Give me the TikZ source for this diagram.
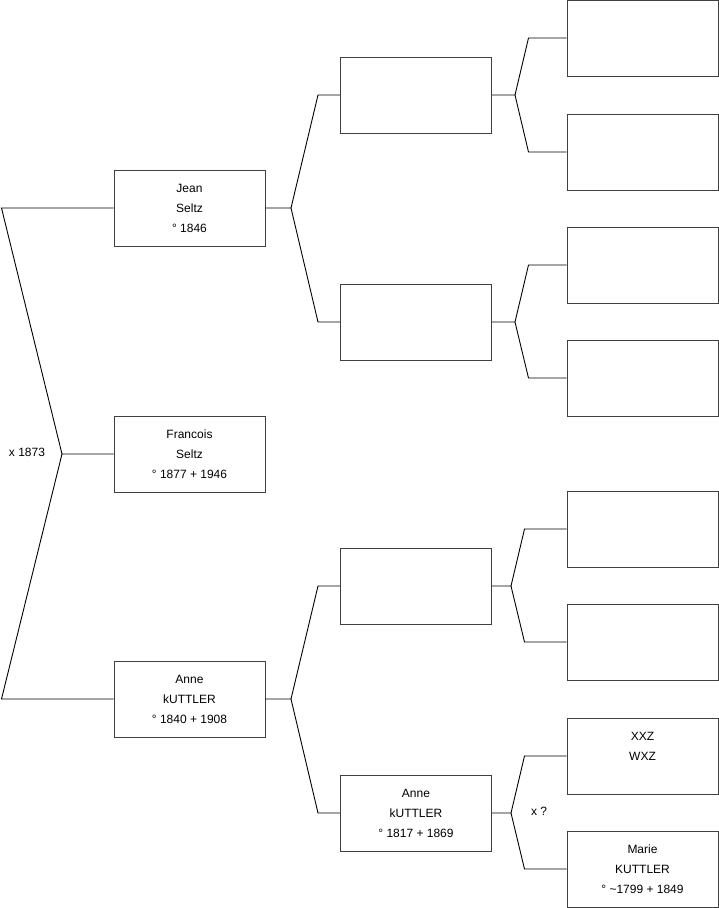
\documentclass[tikz,border=0pt]{standalone}
\usepackage{fontspec}
\setmainfont{Liberation Sans}
\begin{document}
\begin{tikzpicture}[x=1pt,y=-1pt,
  person/.style={draw=black!75, line width=1pt, minimum width=151pt, minimum height=76pt,
    inner sep=0pt, align=center, font=\fontsize{12pt}{20pt}\selectfont},
  link/.style={draw=black, line width=0.9pt},
  lbl/.style={font=\fontsize{12pt}{14pt}\selectfont, inner sep=0pt}]
\useasboundingbox (0,0) rectangle (719,908);
% level 1
\node[person] (jean) at (189.5,208) {Jean\\Seltz\\° 1846};
\node[person] (fran) at (189.5,454) {Francois\\Seltz\\° 1877 + 1946};
\node[person] (anne) at (189.5,699) {Anne\\kUTTLER\\° 1840 + 1908};
% level 2
\node[person] (ba) at (416,95) {};
\node[person] (bb) at (416,322) {};
\node[person] (bc) at (416,586) {};
\node[person] (anne2) at (416,813) {Anne\\kUTTLER\\° 1817 + 1869};
% level 3
\node[person] (c1) at (642.5,38) {};
\node[person] (c2) at (642.5,152) {};
\node[person] (c3) at (642.5,265) {};
\node[person] (c4) at (642.5,378) {};
\node[person] (c5) at (642.5,529) {};
\node[person] (c6) at (642.5,642) {};
\node[person] (c7) at (642.5,756) {XXZ\\WXZ\\\mbox{}};
\node[person] (c8) at (642.5,869) {Marie\\KUTTLER\\° \textasciitilde1799 + 1849};
% vertices
\coordinate (v0) at (62,454);
\coordinate (vj) at (291,208);
\coordinate (va) at (291,699);
\coordinate (vba) at (515,95);
\coordinate (vbb) at (515,322);
\coordinate (vbc) at (511,586);
\coordinate (van) at (511,813);
% connectors
\draw[link] (jean.west) -- ++(-112,0) -- (v0) -- (fran.west);
\draw[link] (anne.west) -- ++(-112,0) -- (v0);
\draw[link] (ba.west) -- ++(-22,0) -- (vj) -- (jean.east);
\draw[link] (bb.west) -- ++(-22,0) -- (vj);
\draw[link] (bc.west) -- ++(-22,0) -- (va) -- (anne.east);
\draw[link] (anne2.west) -- ++(-22,0) -- (va);
\draw[link] (c1.west) -- ++(-38,0) -- (vba) -- (ba.east);
\draw[link] (c2.west) -- ++(-38,0) -- (vba);
\draw[link] (c3.west) -- ++(-38,0) -- (vbb) -- (bb.east);
\draw[link] (c4.west) -- ++(-38,0) -- (vbb);
\draw[link] (c5.west) -- ++(-42,0) -- (vbc) -- (bc.east);
\draw[link] (c6.west) -- ++(-42,0) -- (vbc);
\draw[link] (c7.west) -- ++(-42,0) -- (van) -- (anne2.east);
\draw[link] (c8.west) -- ++(-42,0) -- (van);
% labels
\node[lbl] (m1) at (27,452) {x 1873};
\node[lbl] (m2) at (539,811) {x ?};
\end{tikzpicture}
\end{document}
